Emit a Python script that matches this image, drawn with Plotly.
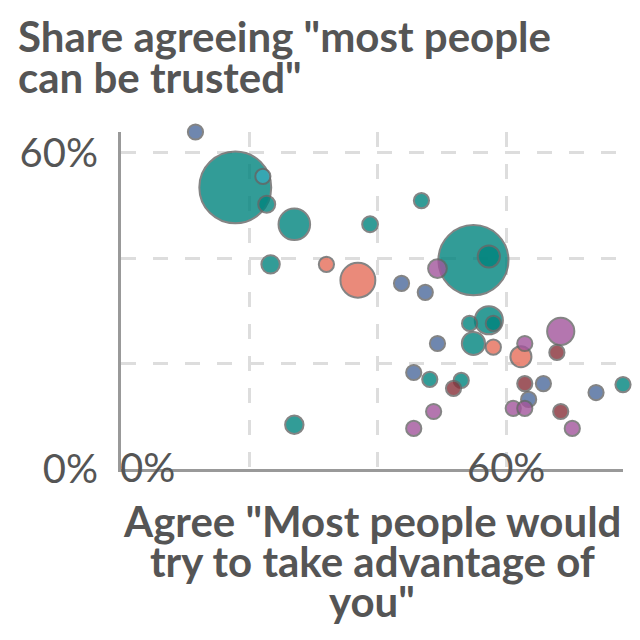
import plotly.graph_objects as go

#--------------------------------------------------
#   data
#--------------------------------------------------
x_vals = [17.8, 54.9, 36.9, 27.0, 57.3, 68.5, 54.9, 57.3, 62.3, 49.3, 23.3, 27.0, 22.7, 38.8,
          11.6, 22.1, 32.0, 46.8, 43.7, 47.4, 54.3, 58.0, 58.0, 49.3, 62.9, 67.9,
          45.6, 48.1, 53.0, 51.8, 48.7, 45.6, 62.9, 65.8, 63.5, 61.1, 62.9, 68.5, 70.3, 74.0, 78.2]
y_vals = [53.4, 39.6, 35.8, 46.4, 28.2, 26.1, 23.8, 40.3, 21.3, 38.0, 38.8, 8.4, 50.2, 46.4,
          63.9, 55.5, 38.8, 50.9, 35.2, 33.5, 27.6, 27.6, 23.1, 23.8, 23.8, 22.1,
          18.3, 17.0, 16.8, 15.3, 10.9, 7.7, 16.2, 16.2, 13.2, 11.5, 11.5, 10.9, 7.7, 14.5, 16.0]
pop = [1400, 1330, 330, 270, 215, 200, 145, 133, 120, 95, 92, 92, 78, 68,
       10, 25, 38, 50, 45, 40, 30, 20, 15, 35, 30, 32,
       12, 22, 28, 18, 24, 26, 20, 11, 9, 33, 27, 19, 21, 6, 14]
continent = ['Asia', 'Asia', 'North America', 'Asia', 'Asia', 'Africa', 'Asia', 'Asia',
             'North America', 'Africa', 'Asia', 'Asia', 'Asia', 'Asia',
             'Europe', 'Oceania', 'North America', 'Asia', 'Europe', 'Europe', 'Asia', 'Asia',
             'North America', 'Europe', 'Africa', 'South America',
             'Europe', 'Asia', 'Asia', 'South America', 'Africa', 'Africa', 'South America',
             'Europe', 'Europe', 'Africa', 'Africa', 'South America', 'Africa', 'Europe', 'Asia']

tick_vals = [0, 20, 40, 60]
y_tick_text = ['0%', '', '', '60%']
x_tick_text = ['', '', '', '60%']

title_lines = ['Share agreeing "most people', 'can be trusted"']
x_title_lines = ['Agree "Most people would', 'try to take advantage of', 'you"']

colours = {'Asia': '#00847E', 'Europe': '#4C6A9C', 'North America': '#E56E5A',
           'Africa': '#A2559C', 'South America': '#883039', 'Oceania': '#38AABA'}

#--------------------------------------------------
# plotting
#--------------------------------------------------
fig = go.Figure(go.Scatter(
    x=x_vals, y=y_vals, mode='markers', cliponaxis=False,
    marker=dict(size=pop, sizemode='area', sizeref=0.5416, sizemin=7.6,
                color=[colours[c] for c in continent], opacity=0.8,
                line=dict(color='#666666', width=2)),
))

tick_font = dict(family='Lato', size=40, color='#555555')
bold_font = dict(family='Lato', size=42, color='#555555', weight='bold')

axis_common = dict(showline=True, linecolor='#999999', linewidth=3,
                   showgrid=True, gridcolor='#dddddd', gridwidth=3, griddash='15px,17px',
                   zeroline=False, tickvals=tick_vals, ticks='', tickfont=tick_font)

fig.update_xaxes(range=[0, max(x_vals)], ticktext=x_tick_text, ticklabelstandoff=-38,
                 **axis_common)
fig.update_yaxes(range=[0, max(y_vals)], ticktext=y_tick_text, ticklabelstandoff=12,
                 **axis_common)

# first x tick label sits to the right of the origin
fig.add_annotation(x=0, y=0, xref='x', yref='y', text='0%', showarrow=False,
                   xanchor='left', yanchor='top', yshift=28, xshift=-3, font=tick_font)

# title lines (tight line spacing)
for i, line in enumerate(title_lines):
    fig.add_annotation(x=0, y=1, xref='paper', yref='paper', text=line, showarrow=False,
                       xanchor='left', yanchor='middle', xshift=-105, yshift=96 - 41 * i,
                       font=bold_font)

for i, line in enumerate(x_title_lines):
    fig.add_annotation(x=0.5, y=0, xref='paper', yref='paper', text=line, showarrow=False,
                       xanchor='center', yanchor='middle', yshift=-52 - 40 * i,
                       font=bold_font)

fig.update_layout(
    width=632, height=632,
    margin=dict(l=109, r=17, t=124, b=171),
    plot_bgcolor='white', paper_bgcolor='white',
    showlegend=False,
)

fig.write_html('out.html')
